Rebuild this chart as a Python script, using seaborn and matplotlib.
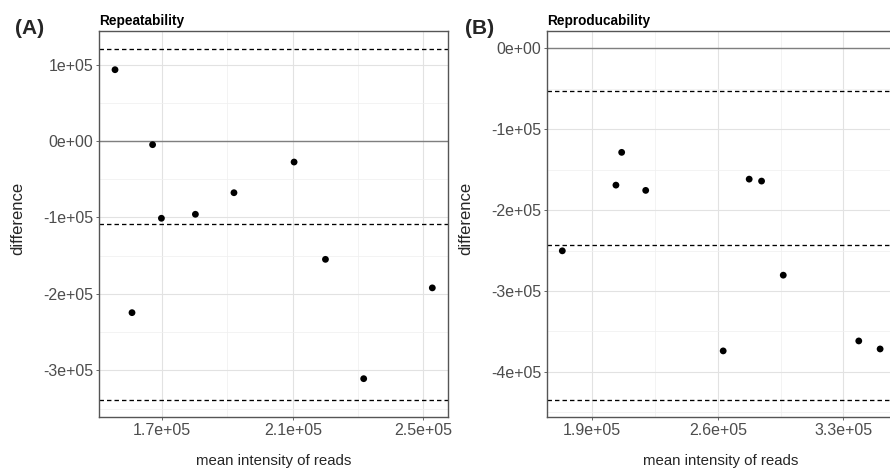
import numpy as np
import pandas as pd
import matplotlib
matplotlib.use("Agg")
import matplotlib.pyplot as plt
from matplotlib.ticker import FixedLocator, FuncFormatter
import seaborn as sns

# Repeatability: mean intensity of reads vs difference between replicates
rep_mean = [155600, 167100, 169800, 180200, 192000, 210400,
            160800, 220000, 231700, 252700]
rep_diff = [93200, -4800, -101000, -95800, -67600, -27500,
            -224400, -154700, -310700, -192000]

# Reproducability: mean intensity of reads vs difference between runs
repro_mean = [203200, 206400, 219800, 277500, 284400,
              173300, 296500, 263000, 338600, 350500]
repro_diff = [-169100, -128600, -175600, -161700, -164100,
              -250300, -280400, -374000, -361700, -371600]

panel_tags = ["(A)", "(B)"]
panel_titles = ["Repeatability", "Reproducability"]

x_major = [[170000, 210000, 250000], [190000, 260000, 330000]]
x_minor = [[190000, 230000], [225000, 295000]]
y_major = [[-300000, -200000, -100000, 0, 100000],
           [-400000, -300000, -200000, -100000, 0]]
y_minor = [[-350000, -250000, -150000, -50000, 50000],
           [-450000, -350000, -250000, -150000, -50000]]
x_limits = [(150700, 257500), (164600, 358800)]
y_limits = [(-360800, 143800), (-455700, 21400)]
x_digits = [1, 1]

sns.set_theme(style="white")
plt.rcParams["font.family"] = ["Liberation Sans", "DejaVu Sans"]
plt.rcParams["lines.scale_dashes"] = False

W, H = 890, 468
fig = plt.figure(figsize=(W / 100, H / 100), dpi=100)


def px_axes(left, top, right, bottom):
    return fig.add_axes([left / W, 1 - bottom / H, (right - left) / W, (bottom - top) / H])


def sci(digits):
    def f(v, pos):
        if v == 0:
            return "0e+00" if digits == 0 else "0." + "0" * digits + "e+00"
        return f"{v:.{digits}e}"
    return f


axes = [px_axes(99, 31, 448, 417), px_axes(546.7, 31, 895, 417)]
datasets = [(rep_mean, rep_diff), (repro_mean, repro_diff)]
tag_x = [15, 465]
ylab_x = [18, 466]

for i, ax in enumerate(axes):
    xs, ys = datasets[i]
    df = pd.DataFrame({"mean": xs, "diff": ys})
    ax.set_facecolor("white")

    ax.set_xlim(*x_limits[i])
    ax.set_ylim(*y_limits[i])

    ax.xaxis.set_major_locator(FixedLocator(x_major[i]))
    ax.xaxis.set_minor_locator(FixedLocator(x_minor[i]))
    ax.yaxis.set_major_locator(FixedLocator(y_major[i]))
    ax.yaxis.set_minor_locator(FixedLocator(y_minor[i]))
    ax.xaxis.set_major_formatter(FuncFormatter(sci(x_digits[i])))
    ax.yaxis.set_major_formatter(FuncFormatter(sci(0)))

    ax.grid(which="major", color="#E2E2E2", linewidth=0.8, zorder=0)
    ax.grid(which="minor", color="#EFEFEF", linewidth=0.5, zorder=0)
    ax.set_axisbelow(True)

    ax.tick_params(axis="both", which="major", length=2.5, width=0.6,
                   color="#4D4D4D", labelcolor="#4D4D4D", labelsize=11.5,
                   pad=1.5, bottom=True, left=True)
    ax.tick_params(axis="both", which="minor", length=0)

    for s in ax.spines.values():
        s.set_color("#555555")
        s.set_linewidth(1.0)

    # zero reference, bias and 95% limits of agreement
    d = np.asarray(ys, dtype=float)
    bias = d.mean()
    sd = d.std(ddof=1)
    ax.axhline(0, color="#7F7F7F", linewidth=1.0, zorder=1)
    for level in (bias - 1.96 * sd, bias, bias + 1.96 * sd):
        ax.axhline(level, color="black", linewidth=0.95, dashes=(3.2, 2.2), zorder=2)

    sns.scatterplot(data=df, x="mean", y="diff", ax=ax, color="black",
                    s=24, edgecolor="none", zorder=3)
    ax.set_xlabel("")
    ax.set_ylabel("")

    ax.set_title(panel_titles[i], loc="left", fontsize=9.8, fontweight="bold",
                 pad=4, color="black")
    fig.text(tag_x[i] / W, 1 - 28 / H, panel_tags[i], fontsize=15,
             fontweight="bold", va="center", ha="left")
    fig.text(ylab_x[i] / W, 1 - 218 / H, "difference", rotation=90,
             fontsize=12, va="center", ha="center")

fig.text(274 / W, 3 / H, "mean intensity of reads", fontsize=10.8,
         ha="center", va="baseline")
fig.text(721 / W, 3 / H, "mean intensity of reads", fontsize=10.8,
         ha="center", va="baseline")

fig.savefig("out.png", dpi=100)
